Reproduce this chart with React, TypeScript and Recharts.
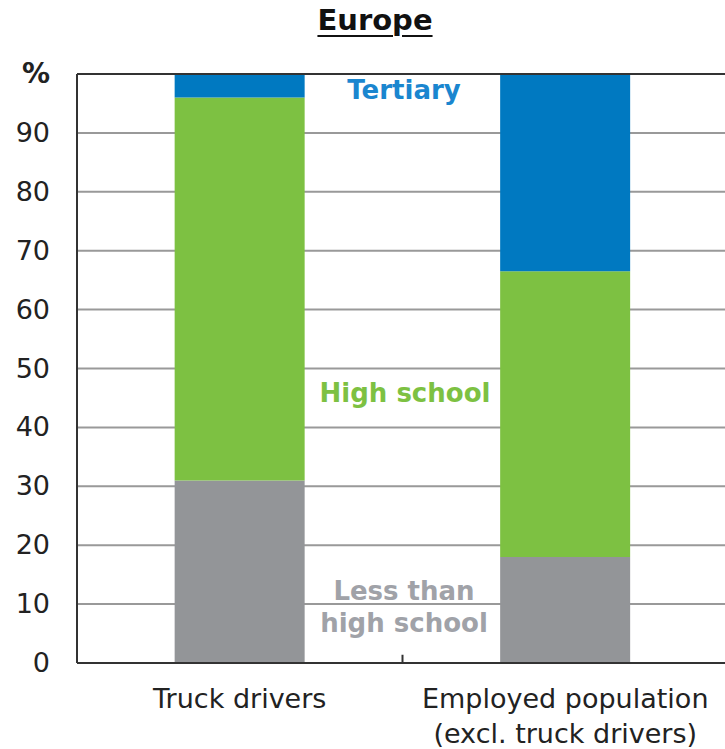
import {
  Bar,
  BarChart,
  CartesianGrid,
  ReferenceLine,
  XAxis,
  YAxis,
} from "recharts";

const categories = ["Truck drivers", "Employed population\n(excl. truck drivers)"];
const lessThanHighSchool = [31, 18];
const highSchool = [65, 48.5];
const tertiary = [4, 33.5];
const yTicks = [0, 10, 20, 30, 40, 50, 60, 70, 80, 90, 100];

const data = categories.map((name, i) => ({
  name,
  idx: i + 0.5,
  less: lessThanHighSchool[i],
  high: highSchool[i],
  tertiary: tertiary[i],
}));

const FONT = "'DejaVu Sans', Verdana, sans-serif";

function CategoryTick({ x, y, payload }: { x?: number; y?: number; payload?: { value: string } }) {
  const lines = String(payload?.value ?? "").split("\n");
  return (
    <text x={x} y={y} textAnchor="middle" fill="#222" fontSize={27} fontFamily={FONT}>
      {lines.map((line, i) => (
        <tspan key={i} x={x} dy={i === 0 ? 37 : 35}>
          {line}
        </tspan>
      ))}
    </text>
  );
}

function ValueTick({ x, y, payload }: { x?: number; y?: number; payload?: { value: number } }) {
  const v = payload?.value ?? 0;
  const isUnit = v === 100;
  return (
    <text
      x={x}
      y={y}
      dy={9}
      textAnchor="end"
      fill="#222"
      fontSize={isUnit ? 28 : 27}
      fontWeight={isUnit ? "bold" : "normal"}
      fontFamily={FONT}
    >
      {isUnit ? "%" : String(v)}
    </text>
  );
}

const labelStyle = {
  position: "absolute" as const,
  width: 240,
  textAlign: "center" as const,
  fontSize: 26,
  fontWeight: "bold" as const,
};

export default function App() {
  return (
    <div
      style={{
        position: "fixed",
        left: 0,
        top: 0,
        width: 725,
        height: 749,
        overflow: "hidden",
        background: "#fff",
        fontFamily: FONT,
      }}
    >
      <div
        style={{
          position: "absolute",
          left: 0,
          top: 3,
          width: 750,
          textAlign: "center",
          fontSize: 29,
          fontWeight: "bold",
          color: "#111",
          textDecoration: "underline",
          textUnderlineOffset: 5,
          textDecorationThickness: 2,
        }}
      >
        Europe
      </div>
      <BarChart
        width={730}
        height={749}
        data={data}
        margin={{ top: 74, right: 2, left: 0, bottom: 0 }}
        barCategoryGap="30%"
      >
        <CartesianGrid stroke="#999" strokeWidth={2} vertical={false} />
        <XAxis
          dataKey="name"
          height={86}
          interval={0}
          tick={<CategoryTick />}
          tickLine={false}
          axisLine={{ stroke: "#333", strokeWidth: 2 }}
        />
        <XAxis xAxisId="num" type="number" dataKey="idx" domain={[0, 2]} hide />
        <YAxis
          domain={[0, 100]}
          ticks={yTicks}
          width={77}
          tickSize={0}
          tickMargin={27}
          tickLine={false}
          axisLine={{ stroke: "#333", strokeWidth: 2 }}
          tick={<ValueTick />}
        />
        <Bar dataKey="less" stackId="a" fill="#939598" isAnimationActive={false} />
        <Bar dataKey="high" stackId="a" fill="#7DC142" isAnimationActive={false} />
        <Bar dataKey="tertiary" stackId="a" fill="#0079C1" isAnimationActive={false} />
        <ReferenceLine y={100} stroke="#333" strokeWidth={2} />
        <ReferenceLine
          xAxisId="num"
          segment={[
            { x: 1, y: 0 },
            { x: 1, y: 1.4 },
          ]}
          stroke="#333"
          strokeWidth={2}
        />
      </BarChart>
      <div style={{ ...labelStyle, left: 284, top: 75, color: "#1A86CF" }}>Tertiary</div>
      <div style={{ ...labelStyle, left: 285, top: 378, color: "#7DC142" }}>High school</div>
      <div style={{ ...labelStyle, left: 284, top: 575, lineHeight: "32px", color: "#A0A2A8" }}>
        Less than
        <br />
        high school
      </div>
    </div>
  );
}
